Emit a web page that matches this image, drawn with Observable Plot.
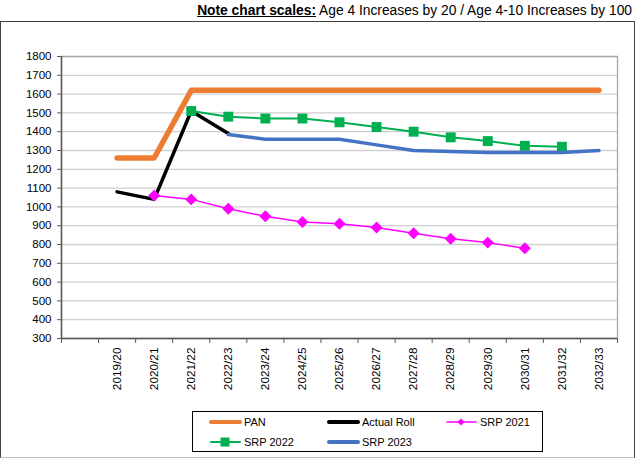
<!DOCTYPE html>
<html>
<head>
<meta charset="utf-8">
<script src="https://cdn.jsdelivr.net/npm/d3@7"></script>
<script src="https://cdn.jsdelivr.net/npm/@observablehq/plot@0.6"></script>
<style>
  html, body { margin: 0; padding: 0; background: white; }
  #wrap { position: relative; width: 635px; height: 459px; font-family: "Liberation Sans", Arial, sans-serif; }
  #title { position: absolute; right: 3px; top: 3px; font-size: 13.8px; white-space: nowrap; color: #000; }
  #title b { text-decoration: underline; }
  #border { position: absolute; left: 0px; top: 21px; width: 633px; height: 435px; border: 1px solid #404040; border-bottom-color: #bfbfbf; pointer-events: none; }
  #legend { position: absolute; left: 192px; top: 411px; width: 349px; height: 39px; border: 1px solid #000; font-size: 11px; background: white; }
  .item { position: absolute; display: flex; align-items: center; height: 14px; }
  .item svg { display: block; margin-right: 2px; }
</style>
</head>
<body>
<div id="wrap">
  <div id="chart"></div>
  <div id="border"></div>
  <div id="title"><b>Note chart scales:</b> Age 4 Increases by 20 / Age 4-10 Increases by 100</div>
  <div id="legend"></div>
</div>
<script>
const categories = ["2019/20","2020/21","2021/22","2022/23","2023/24","2024/25","2025/26","2026/27","2027/28","2028/29","2029/30","2030/31","2031/32","2032/33"];
const pan        = [1260,1260,1620,1620,1620,1620,1620,1620,1620,1620,1620,1620,1620,1620];
const actualRoll = [1080,1040,1510,1390,null,null,null,null,null,null,null,null,null,null];
const srp2021    = [null,1060,1040,990,950,920,910,890,860,830,810,780,null,null];
const srp2022    = [null,null,1510,1480,1470,1470,1450,1425,1400,1370,1350,1325,1320,null];
const srp2023    = [null,null,null,1385,1360,1360,1360,1330,1300,1295,1290,1290,1290,1300];
const yTicks     = [300,400,500,600,700,800,900,1000,1100,1200,1300,1400,1500,1600,1700,1800];

const seriesNames = ["PAN","Actual Roll","SRP 2021","SRP 2022","SRP 2023"];
const seriesColors = ["#ED7D31","#000000","#FF00FF","#00B050","#4472C4"];

// category i occupies slot [i+1, i+2] (slot 0 is an empty leading category)
const pos = i => i + 1.5;
function rows(values, name) {
  return values.map((v, i) => ({x: pos(i), y: v, cat: categories[i], series: name})).filter(d => d.y != null);
}
const dPan = rows(pan, "PAN");
const dRoll = rows(actualRoll, "Actual Roll");
const d2021 = rows(srp2021, "SRP 2021");
const d2022 = rows(srp2022, "SRP 2022");
const d2023 = rows(srp2023, "SRP 2023");

const boundaries = d3.range(0, categories.length + 2);
const centers = categories.map((c, i) => pos(i));

const chart = Plot.plot({
  width: 635,
  height: 459,
  marginLeft: 61,
  marginRight: 18,
  marginTop: 56,
  marginBottom: 121,
  style: {fontFamily: "'Liberation Sans', Arial, sans-serif", fontSize: "11.5px", background: "transparent", color: "#000"},
  x: {domain: [0, categories.length + 1], axis: null, label: null},
  y: {domain: [300, 1800], axis: null, label: null},
  marks: [
    Plot.gridY(yTicks, {stroke: "#d0d0d0", strokeOpacity: 1, strokeWidth: 1.3}),
    Plot.frame({stroke: "#a6a6a6", strokeWidth: 1.3}),
    Plot.axisY({ticks: yTicks, tickSize: 4, tickPadding: 6, tickFormat: d => String(d), label: null, stroke: "#595959", fill: "#000", fontSize: 11.5}),
    Plot.axisX({ticks: boundaries, tickSize: 5, tickFormat: () => "", label: null, stroke: "#595959"}),
    Plot.axisX({ticks: centers, tickSize: 0, tickPadding: 9, tickRotate: -90, label: null, tickFormat: v => categories[Math.round(v - 1.5)], fill: "#000", fontSize: 11.8}),
    Plot.ruleX([0], {stroke: "#595959", strokeWidth: 1.5}),
    Plot.ruleY([300], {stroke: "#595959", strokeWidth: 1.5}),
    Plot.line(dPan, {x: "x", y: "y", stroke: seriesColors[0], strokeWidth: 5.5, strokeLinecap: "round", strokeLinejoin: "round"}),
    Plot.line(dRoll, {x: "x", y: "y", stroke: seriesColors[1], strokeWidth: 3.5, strokeLinecap: "round", strokeLinejoin: "round"}),
    Plot.line(d2021, {x: "x", y: "y", stroke: seriesColors[2], strokeWidth: 1.5}),
    Plot.dot(d2021, {x: "x", y: "y", symbol: "diamond2", r: 5.4, fill: seriesColors[2], stroke: "none"}),
    Plot.line(d2022, {x: "x", y: "y", stroke: seriesColors[3], strokeWidth: 2}),
    Plot.dot(d2022, {x: "x", y: "y", symbol: "square", r: 5.6, fill: seriesColors[3], stroke: "none"}),
    Plot.line(d2023, {x: "x", y: "y", stroke: seriesColors[4], strokeWidth: 3.5, strokeLinecap: "round", strokeLinejoin: "round"})
  ]
});
document.getElementById("chart").appendChild(chart);

// legend
const legendItems = [
  {name: "PAN", color: seriesColors[0], w: 4, marker: null, left: 16, top: 3},
  {name: "Actual Roll", color: seriesColors[1], w: 4, marker: null, left: 134, top: 3},
  {name: "SRP 2021", color: seriesColors[2], w: 1.5, marker: "diamond", left: 252, top: 3},
  {name: "SRP 2022", color: seriesColors[3], w: 2, marker: "square", left: 16, top: 23},
  {name: "SRP 2023", color: seriesColors[4], w: 4, marker: null, left: 134, top: 23}
];
const legend = document.getElementById("legend");
for (const it of legendItems) {
  const div = document.createElement("div");
  div.className = "item";
  div.style.left = it.left + "px";
  div.style.top = it.top + "px";
  let m = "";
  if (it.marker === "diamond") m = `<path d="M16,3.5 L19.5,7 L16,10.5 L12.5,7 Z" fill="${it.color}"/>`;
  if (it.marker === "square") m = `<rect x="11.5" y="2.5" width="9" height="9" fill="${it.color}"/>`;
  div.innerHTML = `<svg width="33" height="14"><line x1="2" x2="31" y1="7" y2="7" stroke="${it.color}" stroke-width="${it.w}" stroke-linecap="round"/>${m}</svg><span>${it.name}</span>`;
  legend.appendChild(div);
}
</script>
</body>
</html>
